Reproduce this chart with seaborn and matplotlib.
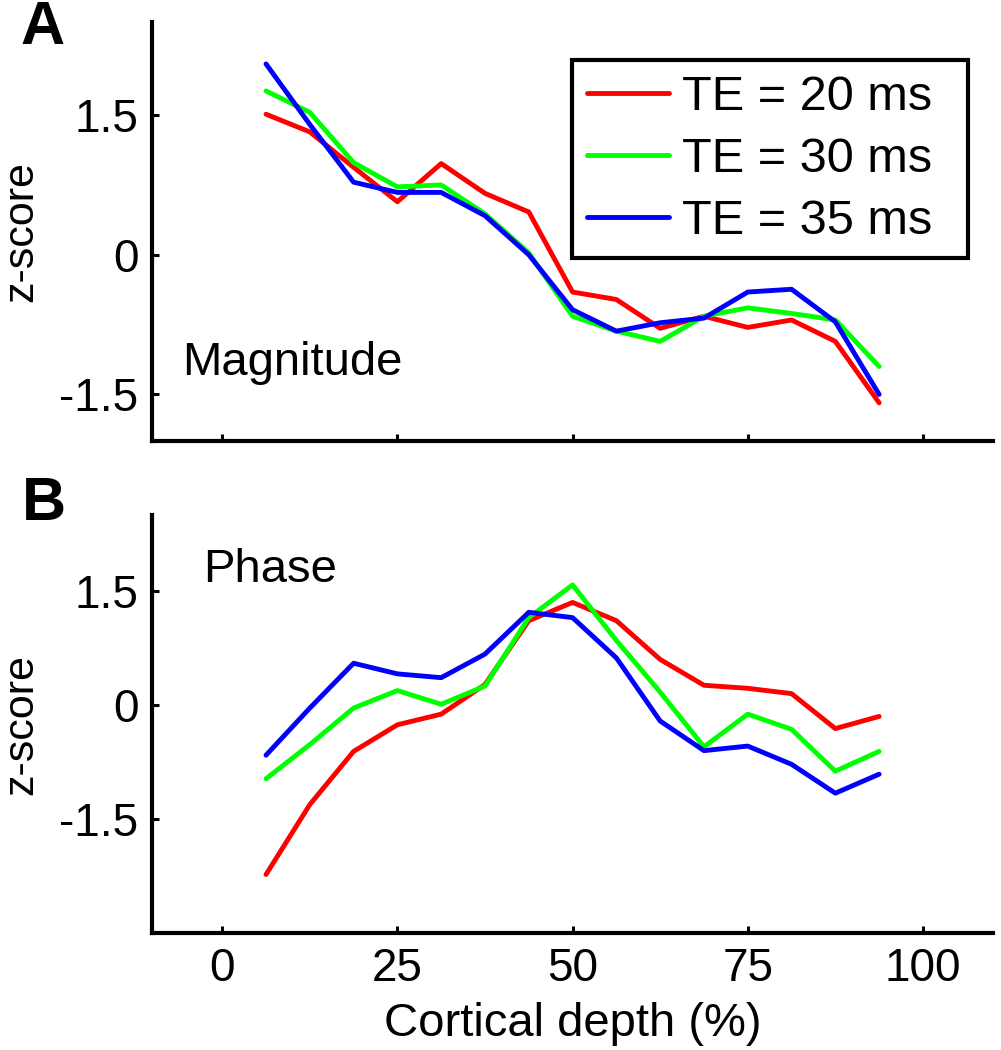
import pandas as pd
import seaborn as sns
import matplotlib.pyplot as plt

# depth positions of the samples (% of cortical thickness)
depth = [6.25, 12.5, 18.75, 25, 31.25, 37.5, 43.75, 50, 56.25, 62.5, 68.75, 75, 81.25, 87.5, 93.75]

# panel A - magnitude z-scores
mag_te20 = [1.51, 1.32, 0.94, 0.57, 0.98, 0.66, 0.46, -0.40, -0.48, -0.79, -0.66, -0.78, -0.70, -0.93, -1.59]
mag_te30 = [1.76, 1.53, 0.99, 0.73, 0.75, 0.44, 0.02, -0.66, -0.82, -0.93, -0.66, -0.57, -0.63, -0.70, -1.20]
mag_te35 = [2.05, 1.40, 0.78, 0.67, 0.67, 0.42, 0.00, -0.59, -0.82, -0.73, -0.68, -0.40, -0.37, -0.72, -1.50]

# panel B - phase z-scores
pha_te20 = [-2.23, -1.31, -0.61, -0.26, -0.12, 0.27, 1.11, 1.35, 1.11, 0.60, 0.26, 0.22, 0.15, -0.31, -0.15]
pha_te30 = [-0.97, -0.52, -0.04, 0.19, 0.01, 0.25, 1.15, 1.58, 0.85, 0.17, -0.55, -0.12, -0.32, -0.87, -0.61]
pha_te35 = [-0.66, -0.04, 0.55, 0.41, 0.36, 0.67, 1.22, 1.15, 0.62, -0.21, -0.60, -0.54, -0.78, -1.16, -0.91]

labels = ['TE = 20 ms', 'TE = 30 ms', 'TE = 35 ms']
colors = ['#ff0000', '#00ff00', '#0000ff']


def long_form(series):
    rows = []
    for lab, vals in zip(labels, series):
        for d, v in zip(depth, vals):
            rows.append({'depth': d, 'z': v, 'TE': lab})
    return pd.DataFrame(rows)


df_mag = long_form([mag_te20, mag_te30, mag_te35])
df_pha = long_form([pha_te20, pha_te30, pha_te35])

sns.set_style('ticks')
plt.rcParams['font.family'] = ['Liberation Sans', 'DejaVu Sans']
plt.rcParams['text.color'] = 'black'
plt.rcParams['axes.labelcolor'] = 'black'
plt.rcParams['xtick.color'] = 'black'
plt.rcParams['ytick.color'] = 'black'

fig = plt.figure(figsize=(10.01, 10.5), dpi=100)
ax_a = fig.add_axes([0.152, 0.580, 0.840, 0.399])
ax_b = fig.add_axes([0.152, 0.1114, 0.840, 0.3981])

sns.lineplot(data=df_mag, x='depth', y='z', hue='TE', palette=colors, linewidth=3.5, ax=ax_a)
sns.lineplot(data=df_pha, x='depth', y='z', hue='TE', palette=colors, linewidth=3.5, ax=ax_b, legend=False)

for ax, ylim in [(ax_a, (-2, 2.5)), (ax_b, (-3, 2.5))]:
    ax.set_xlim(-10, 110)
    ax.set_ylim(*ylim)
    ax.set_xticks([0, 25, 50, 75, 100])
    ax.set_yticks([-1.5, 0, 1.5])
    ax.set_yticklabels(['-1.5', '0', '1.5'])
    ax.tick_params(direction='in', length=5, width=2.2, labelsize=33, pad=10, color='black',
                   labelcolor='black')
    for s in ['top', 'right']:
        ax.spines[s].set_visible(False)
    for s in ['left', 'bottom']:
        ax.spines[s].set_linewidth(3)
        ax.spines[s].set_color('black')
    ax.set_ylabel('z-score', fontsize=31)
    ax.yaxis.set_label_coords(-0.132, 0.5)
    ax.set_xlabel('')

ax_a.set_xticklabels([])
ax_b.set_xlabel('Cortical depth (%)', fontsize=34, labelpad=8)

ax_a.text(0.036, 0.158, 'Magnitude', transform=ax_a.transAxes, fontsize=34, va='baseline', ha='left')
ax_b.text(0.061, 0.840, 'Phase', transform=ax_b.transAxes, fontsize=34, va='baseline', ha='left')

# legend box stretched to the reference width
leg = ax_a.legend(loc='upper left', bbox_to_anchor=(0.4994, 0.5, 0.4709, 0.409), mode='expand',
                  borderaxespad=0, fontsize=35, handlelength=1.7, handletextpad=0.27,
                  labelspacing=0.35, borderpad=0.3, fancybox=False, framealpha=1,
                  edgecolor='black', title=None)
leg.get_frame().set_linewidth(3)
for line in leg.get_lines():
    line.set_linewidth(3.5)

fig.text(0.043, 0.973, 'A', fontsize=44, fontweight='bold', ha='center', va='center')
fig.text(0.044, 0.520, 'B', fontsize=44, fontweight='bold', ha='center', va='center')

plt.savefig('out.png', dpi=100)
